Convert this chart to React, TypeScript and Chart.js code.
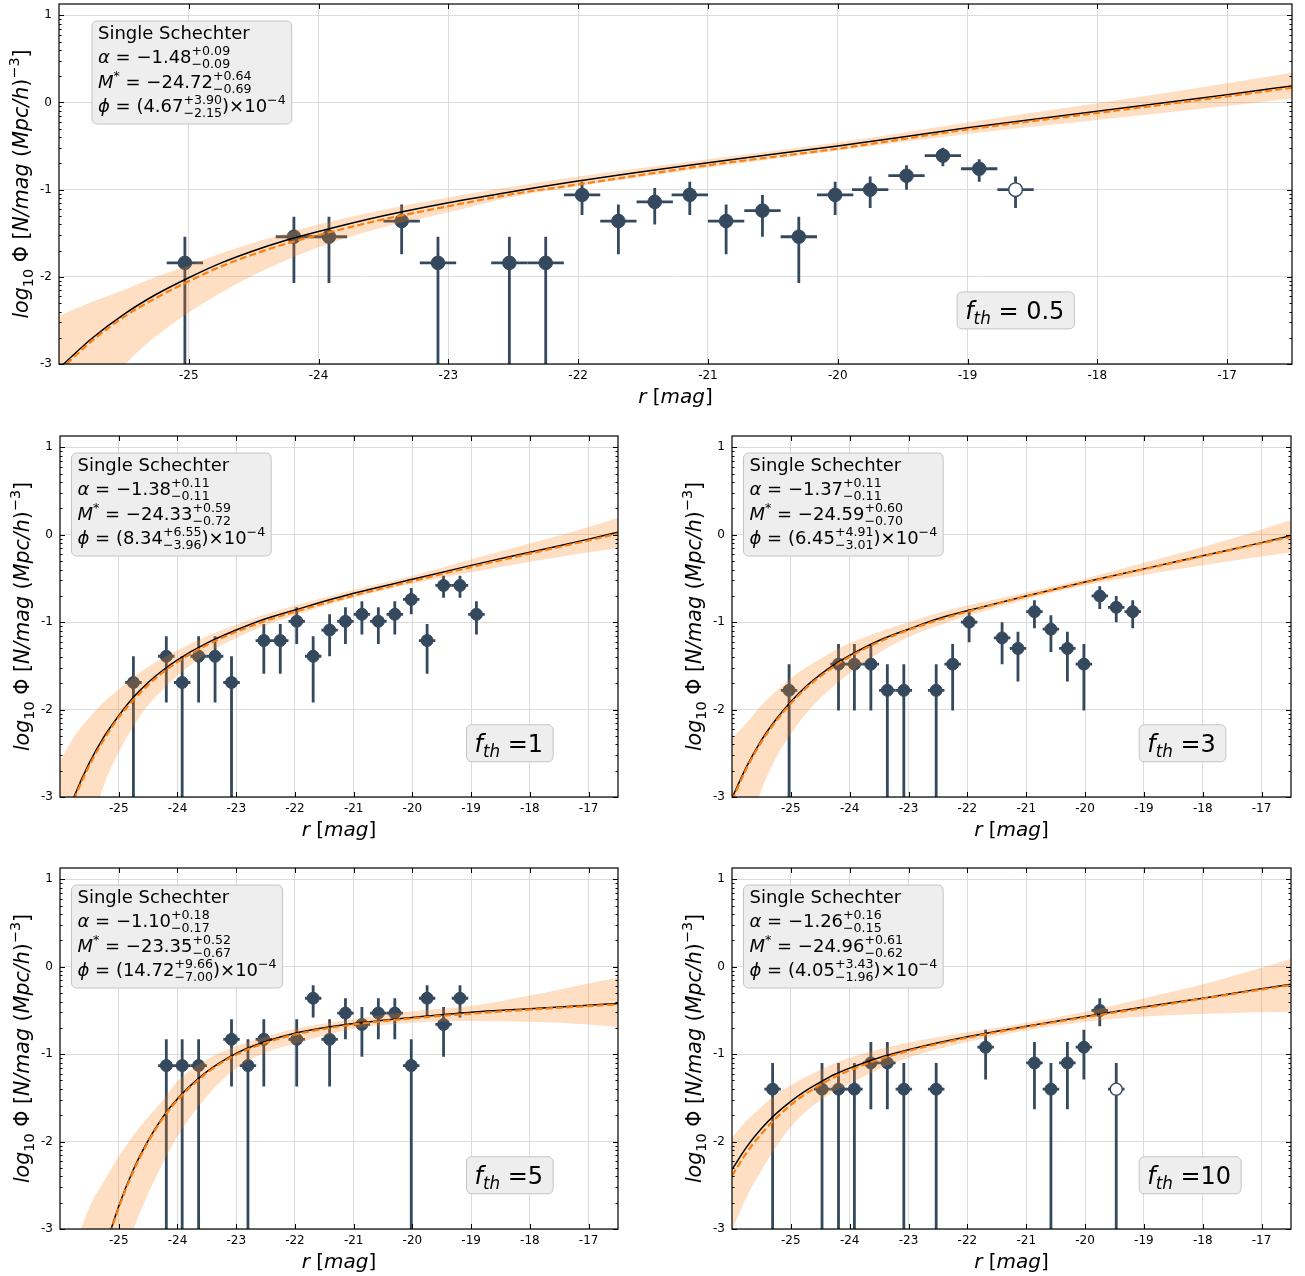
import React, { useEffect, useRef } from "react";
import { Chart, registerables } from "chart.js";

Chart.register(...registerables);

// ---------------- axis settings ----------------
const X_MIN = -26.0;
const X_MAX = -16.5;
const Y_MIN = -3;
const Y_MAX = 1.13;
const X_TICKS = [-25, -24, -23, -22, -21, -20, -19, -18, -17];
const Y_TICKS = [-3, -2, -1, 0, 1];
const BIN_HALF = 0.14;

// ---------------- fit curves: common magnitude samples ----------------
const curveX = [-26, -25.75, -25.5, -25.25, -25, -24.75, -24.5, -24.25, -24, -23.5, -23, -22.5, -22, -21, -20, -19, -18, -17, -16.5];

// ---------------- f_th = 0.5 ----------------
const mag05 = [-25.03, -24.19, -23.92, -23.36, -23.08, -22.53, -22.25, -21.97, -21.69, -21.41, -21.14, -20.86, -20.58, -20.3, -20.02, -19.75, -19.47, -19.19, -18.91, -18.63];
const phi05 = [-1.84, -1.54, -1.54, -1.36, -1.84, -1.84, -1.84, -1.06, -1.36, -1.14, -1.06, -1.36, -1.24, -1.54, -1.06, -1.0, -0.84, -0.61, -0.76, -1.0];
const phiHi05 = [-1.54, -1.31, -1.31, -1.17, -1.54, -1.54, -1.54, -0.91, -1.17, -0.98, -0.91, -1.17, -1.06, -1.31, -0.91, -0.85, -0.72, -0.52, -0.65, -0.85];
const phiLo05 = [-4, -2.07, -2.07, -1.74, -4, -4, -4, -1.29, -1.74, -1.4, -1.29, -1.74, -1.54, -2.07, -1.29, -1.21, -1.0, -0.73, -0.91, -1.21];
const open05 = [19];
const fit05 = [-3.05, -2.71, -2.43, -2.2, -2.01, -1.84, -1.7, -1.58, -1.48, -1.3, -1.15, -1.02, -0.9, -0.69, -0.5, -0.29, -0.1, 0.09, 0.19];
const dash05 = [-3.08, -2.74, -2.46, -2.24, -2.05, -1.88, -1.74, -1.62, -1.52, -1.34, -1.19, -1.05, -0.94, -0.72, -0.53, -0.31, -0.12, 0.07, 0.17];
const up05 = [-2.45, -2.29, -2.15, -2.0, -1.87, -1.73, -1.61, -1.5, -1.4, -1.23, -1.09, -0.965, -0.85, -0.65, -0.46, -0.23, -0.01, 0.22, 0.34];
const lo05 = [-4.2, -3.5, -3.02, -2.68, -2.41, -2.18, -1.98, -1.81, -1.66, -1.43, -1.26, -1.08, -0.96, -0.75, -0.55, -0.36, -0.2, -0.04, 0.05];

// ---------------- f_th = 1 ----------------
const mag1 = [-24.75, -24.19, -23.92, -23.64, -23.36, -23.08, -22.53, -22.25, -21.97, -21.69, -21.41, -21.14, -20.86, -20.58, -20.3, -20.02, -19.75, -19.47, -19.19, -18.91];
const phi1 = [-1.69, -1.39, -1.69, -1.39, -1.39, -1.69, -1.21, -1.21, -0.99, -1.39, -1.09, -0.99, -0.91, -0.99, -0.91, -0.74, -1.21, -0.58, -0.58, -0.91];
const phiHi1 = [-1.39, -1.16, -1.39, -1.16, -1.16, -1.39, -1.02, -1.02, -0.83, -1.16, -0.91, -0.83, -0.76, -0.83, -0.76, -0.61, -1.02, -0.47, -0.47, -0.76];
const phiLo1 = [-4, -1.92, -4, -1.92, -1.92, -4, -1.59, -1.59, -1.25, -1.92, -1.39, -1.25, -1.14, -1.25, -1.14, -0.91, -1.59, -0.72, -0.72, -1.14];
const open1: number[] = [];
const fit1 = [-3.44, -2.98, -2.61, -2.31, -2.07, -1.86, -1.69, -1.55, -1.43, -1.24, -1.09, -0.96, -0.86, -0.67, -0.51, -0.35, -0.2, -0.05, 0.03];
const dash1 = [-3.47, -3.01, -2.64, -2.34, -2.09, -1.89, -1.72, -1.575, -1.455, -1.26, -1.11, -0.985, -0.88, -0.695, -0.53, -0.37, -0.215, -0.065, 0.015];
const up1 = [-2.59, -2.3, -2.09, -1.91, -1.77, -1.63, -1.51, -1.41, -1.32, -1.16, -1.03, -0.91, -0.81, -0.63, -0.47, -0.28, -0.1, 0.09, 0.195];
const lo1 = [-4.6, -3.9, -3.41, -2.86, -2.49, -2.19, -1.95, -1.77, -1.61, -1.36, -1.18, -1.035, -0.92, -0.72, -0.56, -0.43, -0.31, -0.2, -0.15];

// ---------------- f_th = 3 ----------------
const mag3 = [-25.03, -24.19, -23.92, -23.64, -23.36, -23.08, -22.53, -22.25, -21.97, -21.41, -21.14, -20.86, -20.58, -20.3, -20.02, -19.75, -19.47, -19.19];
const phi3 = [-1.78, -1.48, -1.48, -1.48, -1.78, -1.78, -1.78, -1.48, -1.0, -1.18, -1.3, -0.88, -1.08, -1.3, -1.48, -0.7, -0.83, -0.88];
const phiHi3 = [-1.48, -1.25, -1.25, -1.25, -1.48, -1.48, -1.48, -1.25, -0.85, -1.0, -1.11, -0.75, -0.92, -1.11, -1.25, -0.59, -0.7, -0.75];
const phiLo3 = [-4, -2.01, -2.01, -2.01, -4, -4, -4, -2.01, -1.23, -1.48, -1.68, -1.07, -1.34, -1.68, -2.01, -0.85, -1.0, -1.07];
const open3: number[] = [];
const fit3 = [-3.01, -2.65, -2.35, -2.11, -1.91, -1.74, -1.6, -1.48, -1.38, -1.21, -1.08, -0.96, -0.87, -0.7, -0.54, -0.39, -0.24, -0.09, -0.01];
const dash3 = [-3.04, -2.67, -2.37, -2.13, -1.93, -1.76, -1.62, -1.5, -1.395, -1.225, -1.09, -0.977, -0.88, -0.705, -0.547, -0.395, -0.246, -0.097, -0.023];
const up3 = [-2.33, -2.15, -1.95, -1.79, -1.64, -1.52, -1.42, -1.32, -1.24, -1.11, -1.0, -0.895, -0.81, -0.66, -0.5, -0.32, -0.14, 0.06, 0.17];
const lo3 = [-4.2, -3.45, -2.92, -2.55, -2.28, -2.05, -1.87, -1.72, -1.58, -1.35, -1.17, -1.04, -0.93, -0.74, -0.58, -0.46, -0.35, -0.25, -0.2];

// ---------------- f_th = 5 ----------------
const mag5 = [-24.19, -23.92, -23.64, -23.08, -22.8, -22.53, -21.97, -21.69, -21.41, -21.14, -20.86, -20.58, -20.3, -20.02, -19.75, -19.47, -19.19];
const phi5 = [-1.13, -1.13, -1.13, -0.83, -1.13, -0.83, -0.83, -0.36, -0.83, -0.53, -0.66, -0.53, -0.53, -1.13, -0.36, -0.66, -0.36];
const phiHi5 = [-0.83, -0.83, -0.83, -0.6, -0.83, -0.6, -0.6, -0.21, -0.6, -0.36, -0.46, -0.36, -0.36, -0.83, -0.21, -0.46, -0.21];
const phiLo5 = [-4, -4, -4, -1.37, -4, -1.37, -1.37, -0.58, -1.37, -0.83, -1.03, -0.83, -0.83, -4, -0.58, -1.03, -0.58];
const open5: number[] = [];
const fit5 = [-5.78, -4.75, -3.92, -3.27, -2.74, -2.32, -1.99, -1.72, -1.51, -1.2, -0.99, -0.855, -0.76, -0.65, -0.58, -0.52, -0.48, -0.44, -0.42];
const dash5 = [-5.8, -4.77, -3.95, -3.29, -2.76, -2.34, -2.005, -1.735, -1.525, -1.215, -1.005, -0.87, -0.775, -0.66, -0.59, -0.535, -0.49, -0.45, -0.43];
const up5 = [-3.6, -3.2, -2.75, -2.45, -2.17, -1.93, -1.72, -1.53, -1.31, -1.06, -0.91, -0.8, -0.71, -0.6, -0.51, -0.45, -0.33, -0.19, -0.126];
const lo5 = [-7, -6, -5, -4.2, -3.5, -3.0, -2.6, -2.25, -1.94, -1.48, -1.16, -0.98, -0.88, -0.71, -0.64, -0.62, -0.63, -0.66, -0.69];

// ---------------- f_th = 10 ----------------
const mag10 = [-25.31, -24.47, -24.19, -23.92, -23.64, -23.36, -23.08, -22.53, -21.69, -20.86, -20.58, -20.3, -20.02, -19.75, -19.47];
const phi10 = [-1.4, -1.4, -1.4, -1.4, -1.1, -1.1, -1.4, -1.4, -0.92, -1.1, -1.4, -1.1, -0.92, -0.5, -1.4];
const phiHi10 = [-1.1, -1.1, -1.1, -1.1, -0.86, -0.86, -1.1, -1.1, -0.72, -0.86, -1.1, -0.86, -0.72, -0.36, -1.1];
const phiLo10 = [-4, -4, -4, -4, -1.63, -1.63, -4, -4, -1.29, -1.63, -4, -1.63, -1.29, -0.68, -4];
const open10 = [14];
const fit10 = [-2.32, -2.06, -1.85, -1.68, -1.54, -1.42, -1.32, -1.23, -1.16, -1.04, -0.95, -0.87, -0.8, -0.68, -0.57, -0.46, -0.36, -0.25, -0.2];
const dash10 = [-2.39, -2.125, -1.91, -1.73, -1.58, -1.455, -1.35, -1.26, -1.185, -1.06, -0.962, -0.882, -0.812, -0.689, -0.578, -0.471, -0.366, -0.261, -0.209];
const up10 = [-1.95, -1.76, -1.6, -1.46, -1.355, -1.26, -1.18, -1.1, -1.04, -0.945, -0.867, -0.805, -0.75, -0.64, -0.515, -0.36, -0.2, -0.01, 0.09];
const lo10 = [-3.02, -2.63, -2.33, -2.06, -1.83, -1.66, -1.53, -1.42, -1.34, -1.17, -1.04, -0.94, -0.86, -0.73, -0.63, -0.57, -0.54, -0.52, -0.515];

// ---------------- fit parameters (text) ----------------
const alphaTxt05 = ["−1.48", "+0.09", "−0.09"];
const mstarTxt05 = ["−24.72", "+0.64", "−0.69"];
const phiTxt05 = ["4.67", "+3.90", "−2.15"];
const alphaTxt1 = ["−1.38", "+0.11", "−0.11"];
const mstarTxt1 = ["−24.33", "+0.59", "−0.72"];
const phiTxt1 = ["8.34", "+6.55", "−3.96"];
const alphaTxt3 = ["−1.37", "+0.11", "−0.11"];
const mstarTxt3 = ["−24.59", "+0.60", "−0.70"];
const phiTxt3 = ["6.45", "+4.91", "−3.01"];
const alphaTxt5 = ["−1.10", "+0.18", "−0.17"];
const mstarTxt5 = ["−23.35", "+0.52", "−0.67"];
const phiTxt5 = ["14.72", "+9.66", "−7.00"];
const alphaTxt10 = ["−1.26", "+0.16", "−0.15"];
const mstarTxt10 = ["−24.96", "+0.61", "−0.62"];
const phiTxt10 = ["4.05", "+3.43", "−1.96"];

// ---------------- styles ----------------
const FONT = "'DejaVu Sans', 'Noto Sans', sans-serif";
const INK = "#34495e";
const ORANGE = "#ff7f0e";
const BAND = "rgba(255, 127, 14, 0.25)";

type Seg =
  | { t: string; it?: boolean; sc?: number; dy?: number }
  | { sup: string; sub: string; sc?: number };

function fontOf(size: number, it?: boolean) {
  return `${it ? "italic " : ""}${size}px ${FONT}`;
}

function richWidth(ctx: CanvasRenderingContext2D, segs: Seg[], size: number) {
  let w = 0;
  for (const s of segs) {
    if ("sup" in s) {
      ctx.font = fontOf(size * (s.sc ?? 0.7));
      w += Math.max(ctx.measureText(s.sup).width, ctx.measureText(s.sub).width);
    } else {
      ctx.font = fontOf(size * (s.sc ?? 1), s.it);
      w += ctx.measureText(s.t).width;
    }
  }
  return w;
}

function drawRich(ctx: CanvasRenderingContext2D, segs: Seg[], x0: number, y: number, size: number) {
  let x = x0;
  ctx.textAlign = "left";
  ctx.textBaseline = "alphabetic";
  for (const s of segs) {
    if ("sup" in s) {
      ctx.font = fontOf(size * (s.sc ?? 0.7));
      ctx.fillText(s.sup, x, y - size * 0.44);
      ctx.fillText(s.sub, x, y + size * 0.28);
      x += Math.max(ctx.measureText(s.sup).width, ctx.measureText(s.sub).width);
    } else {
      ctx.font = fontOf(size * (s.sc ?? 1), s.it);
      ctx.fillText(s.t, x, y + (s.dy ?? 0) * size);
      x += ctx.measureText(s.t).width;
    }
  }
  return x;
}

function roundRect(ctx: CanvasRenderingContext2D, x: number, y: number, w: number, h: number, r: number) {
  ctx.beginPath();
  ctx.moveTo(x + r, y);
  ctx.lineTo(x + w - r, y);
  ctx.arcTo(x + w, y, x + w, y + r, r);
  ctx.lineTo(x + w, y + h - r);
  ctx.arcTo(x + w, y + h, x + w - r, y + h, r);
  ctx.lineTo(x + r, y + h);
  ctx.arcTo(x, y + h, x, y + h - r, r);
  ctx.lineTo(x, y + r);
  ctx.arcTo(x, y, x + r, y, r);
  ctx.closePath();
}

const Y_TITLE: Seg[] = [
  { t: "log", it: true },
  { t: "10", sc: 0.7, dy: 0.22 },
  { t: " Φ [" },
  { t: "N/mag", it: true },
  { t: " (" },
  { t: "Mpc/h", it: true },
  { t: ")" },
  { t: "−3", sc: 0.7, dy: -0.42 },
  { t: "]" },
];
const X_TITLE: Seg[] = [{ t: "r", it: true }, { t: " [" }, { t: "mag", it: true }, { t: "]" }];

interface PanelCfg {
  key: string;
  canvas: { left: number; top: number; w: number; h: number };
  plot: { l: number; r: number; t: number; b: number };
  mag: number[];
  phi: number[];
  hi: number[];
  lo: number[];
  open: number[];
  fit: number[];
  dash: number[];
  up: number[];
  low: number[];
  alpha: string[];
  mstar: string[];
  phiS: string[];
  fth: string;
  boxDx: number;
  markerR: number;
}

const PANELS: PanelCfg[] = [
  {
    key: "p05",
    canvas: { left: 0, top: -20, w: 1305, h: 432 },
    plot: { l: 59, r: 1292, t: 24, b: 384 },
    mag: mag05, phi: phi05, hi: phiHi05, lo: phiLo05, open: open05,
    fit: fit05, dash: dash05, up: up05, low: lo05,
    alpha: alphaTxt05, mstar: mstarTxt05, phiS: phiTxt05,
    fth: " = 0.5", boxDx: 33, markerR: 6.8,
  },
  {
    key: "p1",
    canvas: { left: 0, top: 412, w: 660, h: 433 },
    plot: { l: 60, r: 618, t: 24, b: 385 },
    mag: mag1, phi: phi1, hi: phiHi1, lo: phiLo1, open: open1,
    fit: fit1, dash: dash1, up: up1, low: lo1,
    alpha: alphaTxt1, mstar: mstarTxt1, phiS: phiTxt1,
    fth: " =1", boxDx: 11.5, markerR: 6,
  },
  {
    key: "p3",
    canvas: { left: 660, top: 412, w: 645, h: 433 },
    plot: { l: 72, r: 631, t: 24, b: 385 },
    mag: mag3, phi: phi3, hi: phiHi3, lo: phiLo3, open: open3,
    fit: fit3, dash: dash3, up: up3, low: lo3,
    alpha: alphaTxt3, mstar: mstarTxt3, phiS: phiTxt3,
    fth: " =3", boxDx: 11.5, markerR: 6,
  },
  {
    key: "p5",
    canvas: { left: 0, top: 845, w: 660, h: 431 },
    plot: { l: 60, r: 618, t: 23, b: 384 },
    mag: mag5, phi: phi5, hi: phiHi5, lo: phiLo5, open: open5,
    fit: fit5, dash: dash5, up: up5, low: lo5,
    alpha: alphaTxt5, mstar: mstarTxt5, phiS: phiTxt5,
    fth: " =5", boxDx: 11.5, markerR: 6,
  },
  {
    key: "p10",
    canvas: { left: 660, top: 845, w: 645, h: 431 },
    plot: { l: 72, r: 631, t: 23, b: 384 },
    mag: mag10, phi: phi10, hi: phiHi10, lo: phiLo10, open: open10,
    fit: fit10, dash: dash10, up: up10, low: lo10,
    alpha: alphaTxt10, mstar: mstarTxt10, phiS: phiTxt10,
    fth: " =10", boxDx: 11.5, markerR: 6,
  },
];

function makePlugin(cfg: PanelCfg) {
  return {
    id: "decor_" + cfg.key,
    beforeDatasetsDraw(chart: any) {
      const { ctx, chartArea: a, scales } = chart;
      const xs = scales.x;
      const ys = scales.y;
      ctx.save();
      ctx.beginPath();
      ctx.rect(a.left, a.top, a.right - a.left, a.bottom - a.top);
      ctx.clip();
      ctx.strokeStyle = INK;
      ctx.lineWidth = 2.8;
      ctx.lineCap = "butt";
      cfg.mag.forEach((m, i) => {
        const px = xs.getPixelForValue(m);
        const py = ys.getPixelForValue(cfg.phi[i]);
        ctx.beginPath();
        ctx.moveTo(px, ys.getPixelForValue(cfg.hi[i]));
        ctx.lineTo(px, ys.getPixelForValue(cfg.lo[i]));
        ctx.moveTo(xs.getPixelForValue(m - BIN_HALF), py);
        ctx.lineTo(xs.getPixelForValue(m + BIN_HALF), py);
        ctx.stroke();
      });
      ctx.restore();
    },
    afterDraw(chart: any) {
      const { ctx, chartArea: a, scales } = chart;
      const xs = scales.x;
      const ys = scales.y;
      ctx.save();
      // frame
      ctx.strokeStyle = "#000";
      ctx.lineWidth = 1.2;
      ctx.strokeRect(a.left, a.top, a.right - a.left, a.bottom - a.top);
      // inward ticks
      ctx.lineWidth = 1;
      ctx.beginPath();
      for (const v of X_TICKS) {
        const px = Math.round(xs.getPixelForValue(v)) + 0.5;
        ctx.moveTo(px, a.bottom);
        ctx.lineTo(px, a.bottom - 5);
        ctx.moveTo(px, a.top);
        ctx.lineTo(px, a.top + 5);
      }
      for (const v of Y_TICKS) {
        const py = Math.round(ys.getPixelForValue(v)) + 0.5;
        ctx.moveTo(a.left, py);
        ctx.lineTo(a.left + 5, py);
        ctx.moveTo(a.right, py);
        ctx.lineTo(a.right - 5, py);
      }
      for (let n = -3; n <= 1; n++) {
        for (let k = 2; k <= 9; k++) {
          const v = n + Math.log10(k);
          if (v > Y_MAX) continue;
          const py = Math.round(ys.getPixelForValue(v)) + 0.5;
          ctx.moveTo(a.left, py);
          ctx.lineTo(a.left + 2.5, py);
          ctx.moveTo(a.right, py);
          ctx.lineTo(a.right - 2.5, py);
        }
      }
      ctx.stroke();

      // parameter box
      const size = 18;
      const lines: Seg[][] = [
        [{ t: "Single Schechter" }],
        [{ t: "α", it: true }, { t: " = " + cfg.alpha[0] }, { sup: cfg.alpha[1], sub: cfg.alpha[2] }],
        [
          { t: "M", it: true },
          { t: "*", sc: 0.7, dy: -0.42 },
          { t: " = " + cfg.mstar[0] },
          { sup: cfg.mstar[1], sub: cfg.mstar[2] },
        ],
        [
          { t: "ϕ", it: true },
          { t: " = (" + cfg.phiS[0] },
          { sup: cfg.phiS[1], sub: cfg.phiS[2] },
          { t: ")×10" },
          { t: "−4", sc: 0.7, dy: -0.42 },
        ],
      ];
      const tw = Math.max(...lines.map((l) => richWidth(ctx, l, size)));
      const bx = a.left + cfg.boxDx;
      const by = a.top + 17;
      roundRect(ctx, bx, by, tw + 12, 103, 5);
      ctx.fillStyle = "#eeeeee";
      ctx.fill();
      ctx.strokeStyle = "#c4c4c4";
      ctx.lineWidth = 1;
      ctx.stroke();
      ctx.fillStyle = "#000";
      const bl = [17.5, 41.5, 66.5, 91];
      lines.forEach((l, i) => drawRich(ctx, l, bx + 6, by + bl[i], size));

      // f_th box
      const fs = 24;
      const fseg: Seg[] = [{ t: "f", it: true }, { t: "th", it: true, sc: 0.7, dy: 0.22 }, { t: cfg.fth }];
      const fw = richWidth(ctx, fseg, fs);
      const fx = xs.getPixelForValue(-19.08);
      const fcy = ys.getPixelForValue(-2.385);
      roundRect(ctx, fx, fcy - 18.5, fw + 18, 37, 5);
      ctx.fillStyle = "#eeeeee";
      ctx.fill();
      ctx.strokeStyle = "#c4c4c4";
      ctx.stroke();
      ctx.fillStyle = "#000";
      drawRich(ctx, fseg, fx + 8, fcy + 8.5, fs);

      // axis titles
      const ts = 20;
      const xw = richWidth(ctx, X_TITLE, ts);
      drawRich(ctx, X_TITLE, (a.left + a.right) / 2 - xw / 2, a.bottom + 39, ts);
      const yts = 20.6;
      const yw = richWidth(ctx, Y_TITLE, yts);
      ctx.save();
      ctx.translate(a.left - 38, (a.top + a.bottom) / 2);
      ctx.rotate(-Math.PI / 2);
      drawRich(ctx, Y_TITLE, -yw / 2, 7, yts);
      ctx.restore();
      ctx.restore();
    },
  };
}

function buildConfig(cfg: PanelCfg): any {
  const pts = (xs: number[], ys: number[]) => xs.map((x, i) => ({ x, y: ys[i] }));
  const { w, h } = cfg.canvas;
  const p = cfg.plot;
  const pointBg = cfg.mag.map((_, i) => (cfg.open.includes(i) ? "#ffffff" : INK));
  return {
    type: "line",
    data: {
      datasets: [
        {
          type: "line",
          label: "fit",
          data: pts(curveX, cfg.fit),
          borderColor: "#000000",
          borderWidth: 1.5,
          pointRadius: 0,
          cubicInterpolationMode: "monotone",
          fill: false,
          clip: 0,
          order: 1,
        },
        {
          type: "line",
          label: "fit2",
          data: pts(curveX, cfg.dash),
          borderColor: ORANGE,
          borderWidth: 2.2,
          borderDash: [7, 3.2],
          pointRadius: 0,
          cubicInterpolationMode: "monotone",
          fill: false,
          clip: 0,
          order: 0,
        },
        {
          type: "line",
          label: "upper",
          data: pts(curveX, cfg.up),
          borderColor: "rgba(0,0,0,0)",
          borderWidth: 0,
          pointRadius: 0,
          cubicInterpolationMode: "monotone",
          fill: { target: 3 },
          backgroundColor: BAND,
          clip: 0,
          order: 2,
        },
        {
          type: "line",
          label: "lower",
          data: pts(curveX, cfg.low),
          borderColor: "rgba(0,0,0,0)",
          borderWidth: 0,
          pointRadius: 0,
          cubicInterpolationMode: "monotone",
          fill: false,
          clip: 0,
          order: 2,
        },
        {
          type: "scatter",
          label: "data",
          data: pts(cfg.mag, cfg.phi),
          showLine: false,
          pointRadius: cfg.markerR,
          pointBackgroundColor: pointBg,
          pointBorderColor: INK,
          pointBorderWidth: cfg.mag.map((_, i) => (cfg.open.includes(i) ? 1.4 : 1)),
          order: 3,
        },
      ],
    },
    options: {
      responsive: false,
      maintainAspectRatio: false,
      animation: false,
      devicePixelRatio: 1,
      events: [],
      layout: { padding: { top: p.t, right: w - p.r, left: 0, bottom: 0 } },
      plugins: { legend: { display: false }, tooltip: { enabled: false } },
      scales: {
        x: {
          type: "linear",
          min: X_MIN,
          max: X_MAX,
          afterBuildTicks: (s: any) => {
            s.ticks = X_TICKS.map((v) => ({ value: v }));
          },
          afterFit: (s: any) => {
            s.height = h - p.b;
          },
          ticks: {
            font: { family: FONT, size: 12 },
            color: "#000",
            padding: 5,
            maxRotation: 0,
            autoSkip: false,
            callback: (v: any) => String(v),
          },
          grid: { color: "#dcdcdc", lineWidth: 1, drawTicks: false },
          border: { display: false },
        },
        y: {
          type: "linear",
          min: Y_MIN,
          max: Y_MAX,
          afterBuildTicks: (s: any) => {
            s.ticks = Y_TICKS.map((v) => ({ value: v }));
          },
          afterFit: (s: any) => {
            s.width = p.l;
          },
          ticks: {
            font: { family: FONT, size: 12 },
            color: "#000",
            padding: 7,
            autoSkip: false,
            callback: (v: any) => String(v),
          },
          grid: { color: "#dcdcdc", lineWidth: 1, drawTicks: false },
          border: { display: false },
        },
      },
    },
    plugins: [makePlugin(cfg)],
  };
}

function Panel({ cfg }: { cfg: PanelCfg }) {
  const ref = useRef<HTMLCanvasElement>(null);
  useEffect(() => {
    const canvas = ref.current;
    if (!canvas) return;
    const chart = new Chart(canvas, buildConfig(cfg));
    return () => chart.destroy();
  }, [cfg]);
  const c = cfg.canvas;
  return (
    <canvas
      ref={ref}
      width={c.w}
      height={c.h}
      style={{ position: "absolute", left: c.left, top: c.top, width: c.w, height: c.h }}
    />
  );
}

export default function App() {
  return (
    <div style={{ position: "absolute", left: 0, top: 0, width: 1305, height: 1276, background: "#ffffff", overflow: "hidden" }}>
      {PANELS.map((p) => (
        <Panel key={p.key} cfg={p} />
      ))}
    </div>
  );
}
